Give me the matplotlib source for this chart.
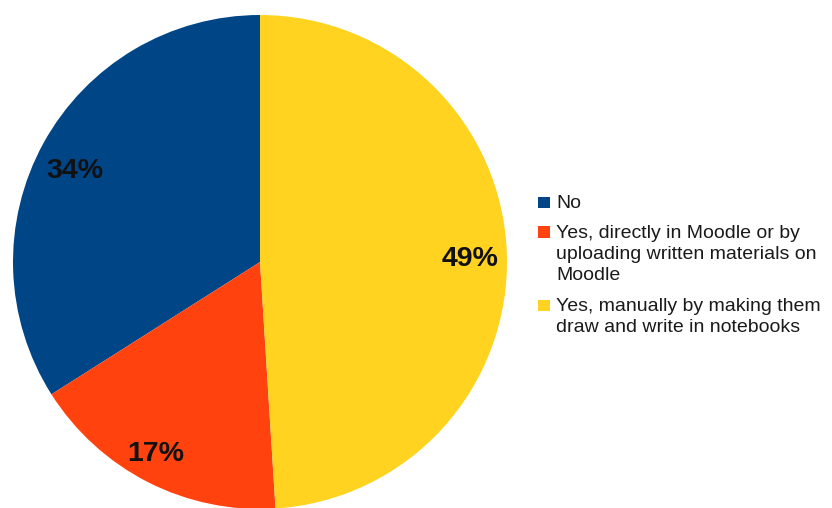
import matplotlib.pyplot as plt
from matplotlib.patches import Rectangle

plt.rcParams['font.family'] = ['Liberation Sans', 'DejaVu Sans']

labels = ['No',
          'Yes, directly in Moodle or by\nuploading written materials on\nMoodle',
          'Yes, manually by making them\ndraw and write in notebooks']
shares = [34, 17, 49]
colors = ['#004586', '#ff420e', '#ffd320']

# where each percentage sits (data coords, baseline)
pct_pos = [(-0.749, 0.340), (-0.423, -0.804), (0.851, -0.015)]

W, H = 832, 508
fig = plt.figure(figsize=(W / 100, H / 100), dpi=100)
ax = fig.add_axes([13 / W, -1 / H, 494 / W, 494 / H])

wedges, texts, autotexts = ax.pie(
    shares, colors=colors, startangle=90, counterclock=True,
    autopct='%d%%', radius=1,
    textprops=dict(fontsize=20.5, fontweight='bold', color='#111111'))
for t, (x, y) in zip(autotexts, pct_pos):
    t.set_position((x, y))
    t.set_verticalalignment('baseline')
ax.set_xlim(-1, 1)
ax.set_ylim(-1, 1)

# legend: square beside the first line of each entry
first_baselines = [208.5, 237.5, 311]
line_step = 21.5
for lab, col, yb in zip(labels, colors, first_baselines):
    fig.add_artist(Rectangle((538 / W, 1 - yb / H), 12 / W, 11.5 / H,
                             transform=fig.transFigure,
                             facecolor=col, edgecolor='none'))
    for i, line in enumerate(lab.split('\n')):
        fig.text(556 / W, 1 - (yb + i * line_step) / H, line,
                 fontsize=14, color='#1a1a1a', va='baseline', ha='left')

fig.savefig('out.png', dpi=100)
